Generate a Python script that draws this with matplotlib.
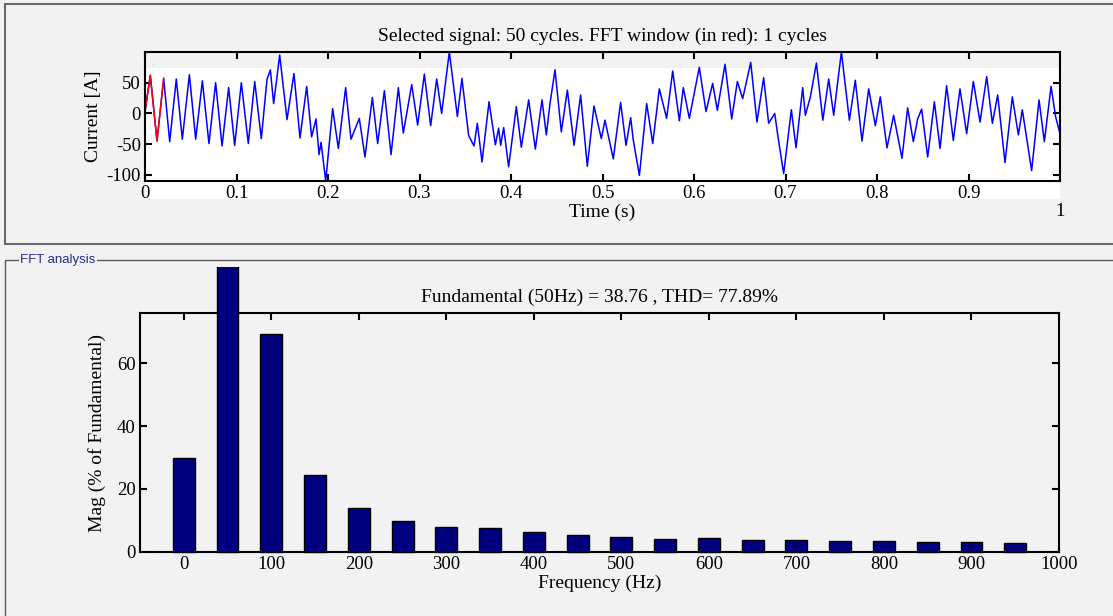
"""FFT analysis screen: selected current signal (top) and harmonic spectrum (bottom)."""

import matplotlib

matplotlib.use("Agg")
import matplotlib.pyplot as plt
from matplotlib.patches import Rectangle
from matplotlib.transforms import Bbox, TransformedBbox

# ---- data ------------------------------------------------------------------
# current waveform: successive peaks / troughs (s, A)
time_s = [
    0.0000, 0.0058, 0.0131, 0.0204, 0.0270, 0.0342, 0.0408, 0.0485, 0.0554, 0.0627,
    0.0699, 0.0772, 0.0842, 0.0914, 0.0980, 0.1053, 0.1129, 0.1199, 0.1271, 0.1333,
    0.1370, 0.1406, 0.1472, 0.1552, 0.1628,
    0.1694, 0.1767, 0.1821, 0.1869, 0.1902, 0.1924, 0.1975, 0.2051, 0.2113, 0.2193,
    0.2251, 0.2342, 0.2404, 0.2485, 0.2543, 0.2616, 0.2689, 0.2769, 0.2823, 0.2915,
    0.2980, 0.3053, 0.3122, 0.3188, 0.3242, 0.3326,
    0.3414, 0.3464, 0.3537, 0.3596, 0.3632, 0.3683, 0.3760, 0.3829, 0.3865, 0.3887,
    0.3920, 0.3974, 0.4058, 0.4113, 0.4193, 0.4266, 0.4339, 0.4386, 0.4426, 0.4481,
    0.4550, 0.4616, 0.4689, 0.4761, 0.4834, 0.4907, 0.4987,
    0.5027, 0.5118, 0.5198, 0.5257, 0.5308, 0.5337, 0.5403, 0.5483, 0.5549, 0.5621,
    0.5701, 0.5767, 0.5840, 0.5883, 0.5949, 0.6058, 0.6131, 0.6204, 0.6255, 0.6339,
    0.6412, 0.6474, 0.6532, 0.6620,
    0.6688, 0.6761, 0.6816, 0.6882, 0.6918, 0.6980, 0.7064, 0.7115, 0.7188, 0.7217,
    0.7272, 0.7338, 0.7408, 0.7472, 0.7527, 0.7563, 0.7611, 0.7698, 0.7763, 0.7836,
    0.7909, 0.7982, 0.8036, 0.8109, 0.8182, 0.8273,
    0.8335, 0.8397, 0.8444, 0.8488, 0.8554, 0.8627, 0.8689, 0.8761, 0.8834, 0.8907,
    0.8980, 0.9053, 0.9126, 0.9199, 0.9261, 0.9319, 0.9399, 0.9479, 0.9545, 0.9588,
    0.9690, 0.9771, 0.9829, 0.9902, 0.9953, 1.0000,
]
current_a = [
    3, 62, -45, 57, -46, 56, -42, 63, -42, 53,
    -49, 50, -53, 42, -52, 50, -49, 52, -41, 55,
    71, 16, 95, -10, 65,
    -40, 44, -38, -9, -67, -47, -110, 8, -57, 42,
    -42, -8, -71, 26, -49, 37, -67, 42, -32, 47,
    -19, 64, -20, 56, 0, 100,
    -5, 57, -36, -53, -16, -79, 19, -51, -24, -52,
    -23, -87, 11, -55, 22, -58, 22, -35, 16, 71,
    -30, 38, -52, 30, -86, 12, -41,
    -11, -74, 18, -52, -7, -44, -101, 16, -49, 40,
    -8, 69, -12, 42, -8, 75, 3, 49, 5, 80,
    -9, 52, 24, 83,
    -14, 58, -16, 0, -38, -98, 6, -56, 42, -3,
    27, 82, -11, 56, -3, 42, 100, -11, 54, -45,
    40, -20, 27, -56, -3, -73,
    9, -46, -9, 7, -71, 19, -57, 45, -44, 40,
    -33, 52, -14, 60, -16, 30, -80, 27, -35, 6,
    -93, 22, -46, 44, -6, -33,
]
fft_window_end = 0.0204  # 1 cycle, drawn in red

# spectrum
freq_hz = [0, 50, 100, 150, 200, 250, 300, 350, 400, 450,
           500, 550, 600, 650, 700, 750, 800, 850, 900, 950]
mag_pct = [30.0, 100.0, 69.4, 24.3, 14.0, 9.9, 8.0, 7.6, 6.2, 5.2,
           4.6, 3.9, 4.3, 3.6, 3.6, 3.3, 3.3, 3.0, 3.0, 2.7]

top_title = "Selected signal: 50 cycles. FFT window (in red): 1 cycles"
fft_title = "Fundamental (50Hz) = 38.76 , THD= 77.89%"

# ---- figure ------------------------------------------------------------------
W, H = 1113, 616
BG = "#f2f2f2"
FS = 14          # titles / axis labels
FS_TICK = 13.5
plt.rcParams["font.family"] = ["Liberation Serif", "DejaVu Serif"]
plt.rcParams["font.size"] = FS
plt.rcParams["axes.unicode_minus"] = False


def fx(px):
    return px / W


def fy(py):
    return 1 - py / H


fig = plt.figure(figsize=(W / 100, H / 100), dpi=100, facecolor=BG)

# panel frames (drawn under the axes)
fig.patches.append(Rectangle((fx(5), fy(244)), fx(1120) - fx(5), fy(4) - fy(244),
                             transform=fig.transFigure, facecolor=BG,
                             edgecolor="#6a6a6a", lw=1.5, zorder=-3))
fig.patches.append(Rectangle((fx(5), fy(640)), fx(1120) - fx(5), fy(260) - fy(640),
                             transform=fig.transFigure, facecolor=BG,
                             edgecolor="#5a5a5a", lw=1.0, zorder=-3))
# white backdrop behind the time plot (as in the screenshot)
fig.patches.append(Rectangle((fx(145), fy(199)), fx(1060) - fx(145), fy(68) - fy(199),
                             transform=fig.transFigure, facecolor="white",
                             edgecolor="none", zorder=-2))
fig.text(fx(20), fy(260), "FFT analysis", family=["Liberation Sans", "DejaVu Sans"],
         fontsize=9.5, color="#2a2a8c", va="center", ha="left", zorder=-1,
         bbox=dict(facecolor=BG, edgecolor="none", pad=1.0))


def style_axes(ax):
    ax.set_facecolor("none")
    ax.set_zorder(2)
    for s in ax.spines.values():
        s.set_linewidth(1.5)
    ax.tick_params(direction="in", length=5, width=1.5, top=True, right=True,
                   labelsize=FS_TICK, pad=3)


# ---- top: time signal ----------------------------------------------------------
ax1 = fig.add_axes([fx(145), fy(181), fx(1060) - fx(145), fy(52) - fy(181)])
style_axes(ax1)
ax1.plot(time_s, current_a, color="#0000ff", lw=1.1)
n_red = sum(1 for t in time_s if t <= fft_window_end)
ax1.plot(time_s[:n_red], current_a[:n_red], color="#ff0000", lw=1.1)
ax1.set_xlim(0, 1)
ax1.set_ylim(min(current_a), max(current_a))
ax1.set_xticks([0, 0.1, 0.2, 0.3, 0.4, 0.5, 0.6, 0.7, 0.8, 0.9])
ax1.set_xticklabels(["0", "0.1", "0.2", "0.3", "0.4", "0.5", "0.6", "0.7", "0.8", "0.9"])
ax1.set_yticks([-100, -50, 0, 50])
ax1.text(1.0, -0.235, "1", transform=ax1.transAxes, ha="center", va="center",
         fontsize=FS_TICK)
ax1.set_xlabel("Time (s)", fontsize=FS, labelpad=1)
ax1.set_ylabel("Current [A]", fontsize=FS, labelpad=3)
ax1.set_title(top_title, fontsize=FS, pad=8)

# ---- bottom: spectrum ------------------------------------------------------------
ax2 = fig.add_axes([fx(140), fy(551.7), fx(1059) - fx(140), fy(313.3) - fy(551.7)])
style_axes(ax2)
bars = ax2.bar(freq_hz, mag_pct, width=25, color="#00007f", edgecolor="black",
               lw=1.0, zorder=3)
clip = TransformedBbox(Bbox([[0, 0], [1, fy(267)]]), fig.transFigure)
for b in bars:
    b.set_clip_box(clip)
ax2.set_xlim(-50, 1000)
ax2.set_ylim(0, 76)
ax2.set_xticks(range(0, 1001, 100))
ax2.set_yticks([0, 20, 40, 60])
ax2.set_xlabel("Frequency (Hz)", fontsize=FS, labelpad=1)
ax2.set_ylabel("Mag (% of Fundamental)", fontsize=FS, labelpad=8)
ax2.set_title(fft_title, fontsize=FS, pad=8)

fig.savefig("out.png", dpi=100, facecolor=BG)
